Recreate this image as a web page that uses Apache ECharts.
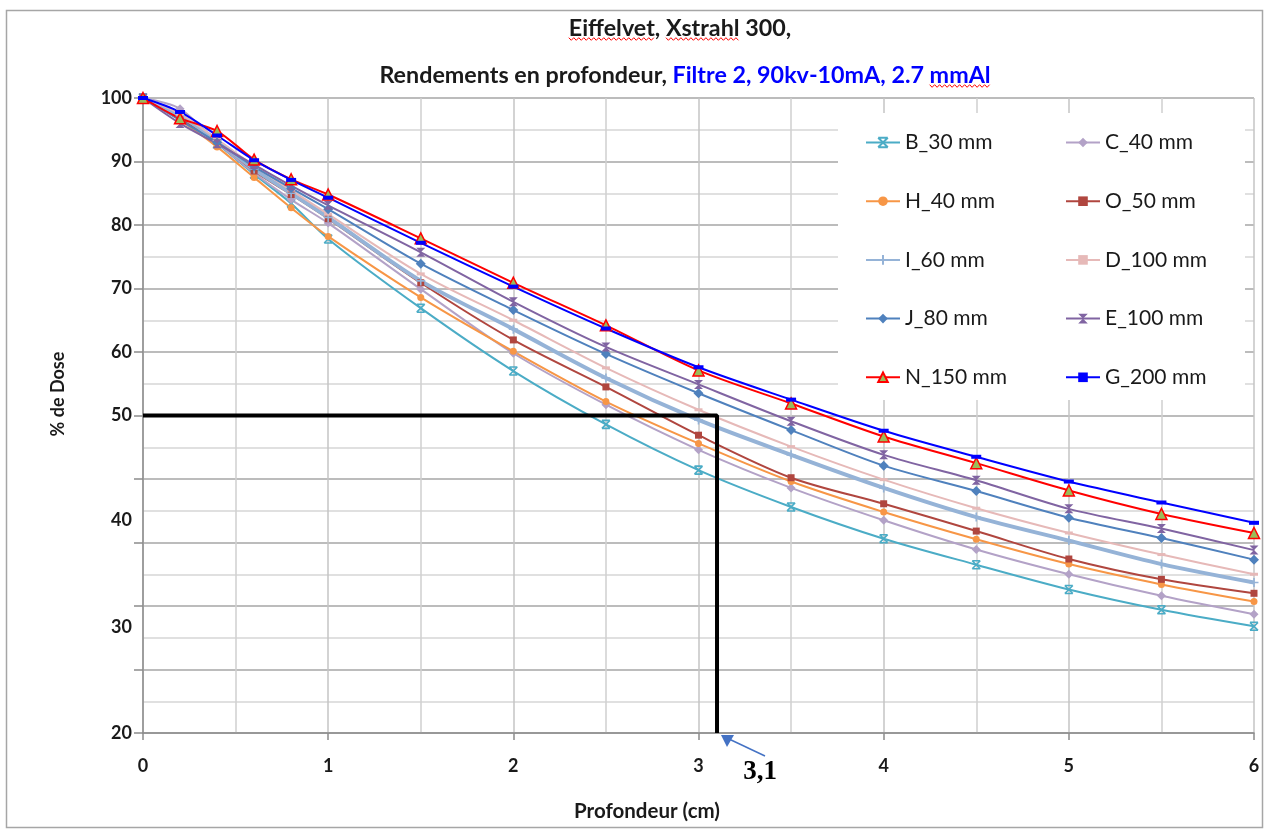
<!DOCTYPE html>
<html><head><meta charset="utf-8">
<script src="https://cdn.jsdelivr.net/npm/echarts@6/dist/echarts.min.js"></script>
<style>html,body{margin:0;padding:0;background:#fff}#c{width:1269px;height:834px}</style>
</head><body><div id="c"></div>
<script>
// ---- data (depth in cm, % dose) ----
const depth  = [0,0.2,0.4,0.6,0.8,1,1.5,2,2.5,3,3.5,4,4.5,5,5.5,6];
const B_30   = [100,97.0,92.8,88.0,83.4,77.8,66.9,57.0,48.6,41.4,35.6,30.6,26.5,22.6,19.4,16.8];
const C_40   = [100,98.3,93.0,88.2,84.0,80.3,69.9,59.8,51.7,44.6,38.6,33.5,28.9,25.0,21.6,18.7];
const H_40   = [100,96.5,92.3,87.5,82.7,78.2,68.6,60.1,52.2,45.6,39.6,34.8,30.5,26.6,23.4,20.7];
const O_50   = [100,96.8,93.2,88.5,84.8,81.0,70.9,61.9,54.5,46.9,40.2,36.1,31.8,27.4,24.2,22.0];
const I_60   = [100,97.2,93.3,88.8,85.0,81.2,71.2,63.6,55.9,49.3,43.8,38.6,34.0,30.3,26.6,23.7];
const D_100  = [100,97.5,93.5,89.3,85.5,81.7,72.3,65.0,57.5,50.9,45.1,39.9,35.4,31.5,28.1,25.0];
const J_80   = [100,96.5,93.0,89.2,85.8,82.5,73.9,66.6,59.7,53.5,47.7,42.1,38.1,33.9,30.7,27.3];
const E_100  = [100,96.0,92.8,89.5,86.2,83.1,75.7,67.9,60.8,54.9,49.1,43.8,39.8,35.3,32.2,28.8];
const N_150  = [100,96.8,94.8,90.3,87.2,84.8,77.9,70.9,64.2,57.1,51.9,46.7,42.5,38.2,34.5,31.5];
const G_200  = [100,97.8,94.1,90.2,87.1,84.3,77.2,70.3,63.7,57.6,52.5,47.6,43.5,39.6,36.3,33.1];
const seriesNames = ['B_30 mm','C_40 mm','H_40 mm','O_50 mm','I_60 mm','D_100 mm','J_80 mm','E_100 mm','N_150 mm','G_200 mm'];
const seriesValues = [B_30,C_40,H_40,O_50,I_60,D_100,J_80,E_100,N_150,G_200];
// 50 % reading line: depth 3.1 cm
const cut50 = [[0,50],[3.1,50],[3.1,0]];
const cutLabel = '3,1';
// y tick labels as printed on the reference
const yTickValues = [0,16.6,33.5,50,60,70,80,90,100];
const yTickLabels = ['20','30','40','50','60','70','80','90','100'];
const xTickLabels = ['0','1','2','3','4','5','6'];
const title1 = 'Eiffelvet, Xstrahl 300,';
const title2a = 'Rendements en profondeur, ';
const title2b = 'Filtre 2, 90kv-10mA, 2.7 mmAl';

// ---- styles ----
const X_SYM = 'path://M0,0L10,0M0,10L10,10M0,0L10,10M10,0L0,10';
const HOUR = 'path://M0,0L10,0L0,10L10,10Z';
const PLUS = 'path://M5,0L5,10M0,5L10,5';
const styles = [
  {color:'#4bacc6', symbol:X_SYM, size:8, stroke:true},
  {color:'#b3a2c7', symbol:'diamond', size:9},
  {color:'#f79646', symbol:'circle', size:7},
  {color:'#b0463f', symbol:'rect', size:7},
  {color:'#95b3d7', symbol:PLUS, size:9, stroke:true, width:4},
  {color:'#e6b9b8', symbol:'rect', size:[8,3]},
  {color:'#4f81bd', symbol:'diamond', size:10},
  {color:'#8064a2', symbol:HOUR, size:9},
  {color:'#ff0000', symbol:'triangle', size:11, fill:'#9bbb59', border:'#ff0000'},
  {color:'#0000ff', symbol:'rect', size:[10,4]}
];

const series = seriesNames.map((n,i)=>{
  const s = styles[i];
  const item = {color: s.fill || s.color};
  if (s.stroke) { item.borderColor = s.color; item.borderWidth = 1.6; }
  if (s.border) { item.borderColor = s.border; item.borderWidth = 1.5; }
  return {
    name:n, type:'line', smooth:0.3, z:2,
    data: depth.map((d,k)=>[d, seriesValues[i][k]]),
    symbol:s.symbol, symbolSize:s.size, showSymbol:true,
    lineStyle:{color:s.color, width:s.width||2},
    itemStyle:item,
    emphasis:{disabled:true}
  };
});
series.push({
  name:'cut', type:'line', data:cut50, symbol:'none', z:5, silent:true,
  lineStyle:{color:'#000', width:4}, emphasis:{disabled:true}
});

const FONT = 'Lato';
const TFS = 23.3;
const legendCommon = {
  orient:'vertical', padding:0, itemWidth:34, itemHeight:12, itemGap:37.7,
  textStyle:{fontFamily:FONT, fontSize:21, color:'#1a1a1a', lineHeight:20},
  selectedMode:false, z:6
};

// red spell-check squiggles under some title words
const mctx = document.createElement('canvas').getContext('2d');
function tw(t){ mctx.font = 'bold ' + TFS + 'px ' + FONT; return mctx.measureText(t).width; }
function squiggle(x0, x1, y){
  const pts = []; let up = true;
  for (let x = x0; x <= x1; x += 2.5) { pts.push([x, y + (up ? -1.3 : 1.3)]); up = !up; }
  return {type:'polyline', z:10, silent:true, shape:{points:pts}, style:{stroke:'#ff0000', lineWidth:1, fill:null}};
}
const t1x = 680, t1y = 28, t2x = 685, t2y = 75;
const s1 = t1x - tw(title1)/2;
const s2 = t2x - (tw(title2a) + tw(title2b))/2;
const sq = [
  squiggle(s1, s1 + tw('Eiffelvet'), t1y + 11),
  squiggle(s1 + tw('Eiffelvet, '), s1 + tw('Eiffelvet, Xstrahl'), t1y + 11),
  squiggle(s2 + tw(title2a) + tw('Filtre 2, 90kv-10mA, 2.7 '), s2 + tw(title2a) + tw(title2b), t2y + 11)
];

const chart = echarts.init(document.getElementById('c'), null, {renderer:'canvas'});
chart.setOption({
  animation:false,
  backgroundColor:'#fff',
  grid:{left:143, right:15, top:98, bottom:101},
  xAxis:{
    type:'value', min:0, max:6, interval:1,
    axisLine:{lineStyle:{color:'#8c8c8c', width:1.5}},
    axisTick:{show:true, length:7, lineStyle:{color:'#8c8c8c', width:1.5}},
    axisLabel:{margin:24, fontFamily:FONT, fontWeight:'bold', fontSize:18, color:'#1a1a1a',
      formatter:v=>xTickLabels[Math.round(v)] || ''},
    splitLine:{show:true, lineStyle:{color:'#c4c4c4', width:1.5}},
    minorTick:{show:false, splitNumber:2},
    minorSplitLine:{show:true, lineStyle:{color:'#cfcfcf', width:1.5}}
  },
  yAxis:{
    type:'value', min:0, max:100, interval:10,
    axisLine:{show:true, lineStyle:{color:'#8c8c8c', width:1.5}},
    axisTick:{show:true, length:9, lineStyle:{color:'#8c8c8c', width:1.5}},
    axisLabel:{margin:11, fontFamily:FONT, fontWeight:'bold', fontSize:18, color:'#1a1a1a',
      customValues:yTickValues,
      formatter:v=>{ const k = yTickValues.findIndex(t=>Math.abs(t-v)<0.01); return k>=0 ? yTickLabels[k] : ''; }},
    splitLine:{show:true, lineStyle:{color:'#a6a6a6', width:1.5}},
    minorTick:{show:false, splitNumber:2},
    minorSplitLine:{show:true, lineStyle:{color:'#d6d6d6', width:1.5}}
  },
  legend:[
    Object.assign({left:865, top:132, data:[seriesNames[0],seriesNames[2],seriesNames[4],seriesNames[6],seriesNames[8]]}, legendCommon),
    Object.assign({left:1065, top:132, data:[seriesNames[1],seriesNames[3],seriesNames[5],seriesNames[7],seriesNames[9]]}, legendCommon)
  ],
  graphic:{elements:[
    {type:'rect', z:1, silent:true, shape:{x:838, y:113, width:407, height:287}, style:{fill:'#fff'}},
    {type:'rect', z:0, silent:true, shape:{x:6.5, y:10.5, width:1256, height:817}, style:{fill:'none', stroke:'#a6a6a6', lineWidth:1.5}},
    {type:'text', z:10, x:t1x, y:t1y, style:{text:title1, fontFamily:FONT, fontWeight:'bold', fontSize:TFS, fill:'#1a1a1a', textAlign:'center', textVerticalAlign:'middle'}},
    {type:'text', z:10, x:t2x, y:t2y, style:{
      text:'{k|' + title2a + '}{b|' + title2b + '}',
      textAlign:'center', textVerticalAlign:'middle',
      rich:{k:{fontFamily:FONT, fontWeight:'bold', fontSize:TFS, fill:'#1a1a1a'},
            b:{fontFamily:FONT, fontWeight:'bold', fontSize:TFS, fill:'#0000ff'}}}},
    {type:'text', z:10, x:58, y:394, rotation:Math.PI/2, style:{text:'% de Dose', fontFamily:FONT, fontWeight:'bold', fontSize:18, fill:'#1a1a1a', textAlign:'center', textVerticalAlign:'middle'}},
    {type:'text', z:10, x:647, y:811, style:{text:'Profondeur (cm)', fontFamily:FONT, fontWeight:'bold', fontSize:20.5, fill:'#1a1a1a', textAlign:'center', textVerticalAlign:'middle'}},
    {type:'line', z:10, silent:true, shape:{x1:765, y1:756, x2:729, y2:739}, style:{stroke:'#4472c4', lineWidth:1.5}},
    {type:'polygon', z:10, silent:true, shape:{points:[[721,735],[734,735],[727,747]]}, style:{fill:'#4472c4'}},
    {type:'text', z:10, x:760, y:772, style:{text:cutLabel, fontFamily:'Liberation Serif', fontWeight:'bold', fontSize:27, fill:'#000', textAlign:'center', textVerticalAlign:'middle'}}
  ].concat(sq)},
  series:series
});
</script></body></html>
